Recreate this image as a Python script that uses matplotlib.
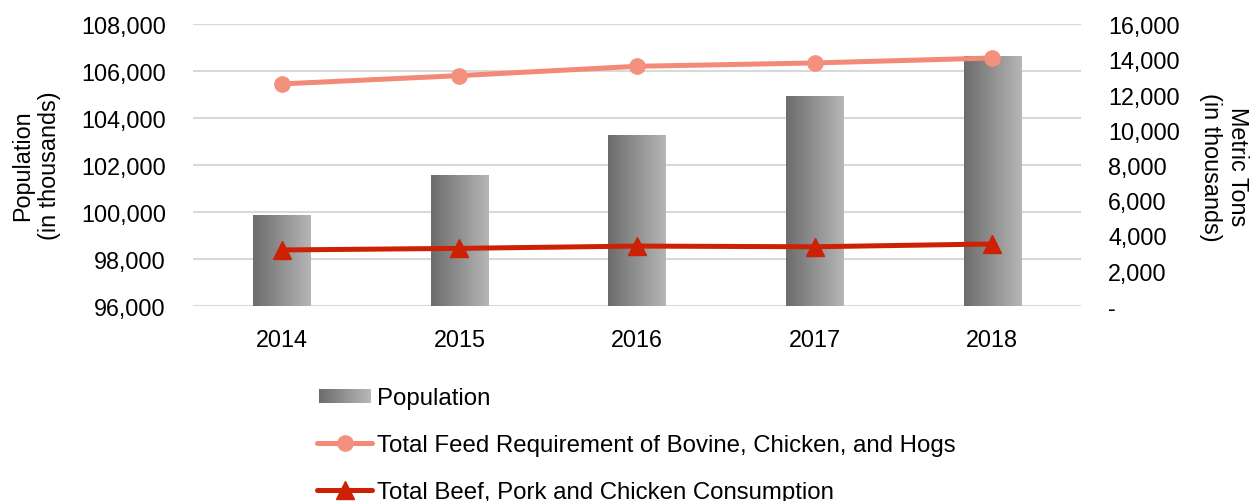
import numpy as np
import matplotlib
matplotlib.use("Agg")
import matplotlib.pyplot as plt
from matplotlib.legend_handler import HandlerBase
from matplotlib.patches import Rectangle
from matplotlib.lines import Line2D
from matplotlib.ticker import FuncFormatter, MultipleLocator

plt.rcParams["font.family"] = ["Liberation Sans", "DejaVu Sans"]

years = ["2014", "2015", "2016", "2017", "2018"]
population = [99880, 101590, 103280, 104950, 106650]
feed_requirement = [12600, 13070, 13600, 13790, 14070]
meat_consumption = [3180, 3270, 3400, 3360, 3520]

label_pop = "Population"
label_feed = "Total Feed Requirement of Bovine, Chicken, and Hogs"
label_cons = "Total Beef, Pork and Chicken Consumption"

FS = 16.8
FS_LEG = 17.3
FEED_COLOR = "#F28A77"
FEED_MARKER = "#F4907E"
CONS_COLOR = "#CC2104"
GRID_COLOR = "#D9D9D9"

grad = np.linspace(0, 1, 256).reshape(1, -1)
gray_cmap = matplotlib.colors.LinearSegmentedColormap.from_list(
    "bar_gray", ["#6C6C6C", "#B6B6B6"])

fig = plt.figure(figsize=(12.51, 5.02), dpi=100)
ax = fig.add_axes([193 / 1251, 1 - 307 / 502, (1081 - 193) / 1251, (307 - 25) / 502])
ax2 = ax.twinx()

x = np.arange(len(years))
ymin, ymax = 96000, 108000
bar_w = 0.323
bars = ax.bar(x, population, width=bar_w, color="none", edgecolor="none", zorder=2)
for b, val in zip(bars, population):
    x0 = b.get_x()
    im = ax.imshow(grad, cmap=gray_cmap, aspect="auto", interpolation="bilinear",
                   extent=[x0, x0 + b.get_width(), ymin, val], zorder=2)
    im.set_clip_path(b)

ax.set_xlim(-0.5, len(years) - 0.5)
ax.set_ylim(ymin, ymax)
ax.yaxis.set_major_locator(MultipleLocator(2000))
ax.yaxis.set_major_formatter(FuncFormatter(lambda v, p: f"{v:,.0f}"))
ax.grid(axis="y", color=GRID_COLOR, linewidth=1.5)
ax.set_axisbelow(True)
ax.set_xticks(x)
ax.set_xticklabels(years)

ax2.plot(x, feed_requirement, color=FEED_COLOR, linewidth=3.6, marker="o",
         markersize=11, markerfacecolor=FEED_MARKER, markeredgecolor=FEED_MARKER,
         solid_capstyle="round", zorder=3)
ax2.plot(x, meat_consumption, color=CONS_COLOR, linewidth=3.6, marker="^",
         markersize=13.5, markerfacecolor=CONS_COLOR, markeredgecolor=CONS_COLOR,
         solid_capstyle="round", zorder=3)
ax2.set_ylim(0, 16000)
ax2.yaxis.set_major_locator(MultipleLocator(2000))
ax2.yaxis.set_major_formatter(FuncFormatter(lambda v, p: "-" if v == 0 else f"{v:,.0f}"))

for a in (ax, ax2):
    for s in a.spines.values():
        s.set_visible(False)
    a.tick_params(length=0, labelsize=FS, colors="black")
ax.tick_params(axis="y", pad=19.5)
ax.tick_params(axis="x", pad=15.5)
ax2.tick_params(axis="y", pad=19.5)

fig.text(36 / 1251, 1 - 166 / 502, "Population\n(in thousands)", rotation=90,
         ha="center", va="center", multialignment="center", fontsize=FS)
fig.text(1224 / 1251, 1 - 167 / 502, "Metric Tons\n(in thousands)", rotation=270,
         ha="center", va="center", multialignment="center", fontsize=FS)


class GradientPatchHandler(HandlerBase):
    def create_artists(self, legend, orig_handle, xdescent, ydescent, width,
                       height, fontsize, trans):
        n = 40
        arts = []
        h = height * 0.8
        y0 = -ydescent + (height - h) / 2
        x0 = -xdescent + width * 0.04
        w = width * 0.93
        for i in range(n):
            c = gray_cmap(i / (n - 1))
            r = Rectangle((x0 + w * i / n, y0), w / n + 0.3, h,
                          facecolor=c, edgecolor="none", transform=trans)
            arts.append(r)
        return arts


pop_handle = Rectangle((0, 0), 1, 1)
feed_handle = Line2D([], [], color=FEED_COLOR, linewidth=3.6, marker="o",
                     markersize=11, markerfacecolor=FEED_MARKER,
                     markeredgecolor=FEED_MARKER, solid_capstyle="round")
cons_handle = Line2D([], [], color=CONS_COLOR, linewidth=3.6, marker="^",
                     markersize=13.5, markerfacecolor=CONS_COLOR,
                     markeredgecolor=CONS_COLOR, solid_capstyle="round")

fig.legend([pop_handle, feed_handle, cons_handle], [label_pop, label_feed, label_cons],
           handler_map={Rectangle: GradientPatchHandler()},
           loc="upper left", bbox_to_anchor=(317 / 1251, 1 - 388.5 / 502),
           frameon=False, fontsize=FS_LEG, handlelength=2.3, handletextpad=0.2,
           labelspacing=1.03, borderpad=0, borderaxespad=0)

fig.savefig("out.png", dpi=100)
